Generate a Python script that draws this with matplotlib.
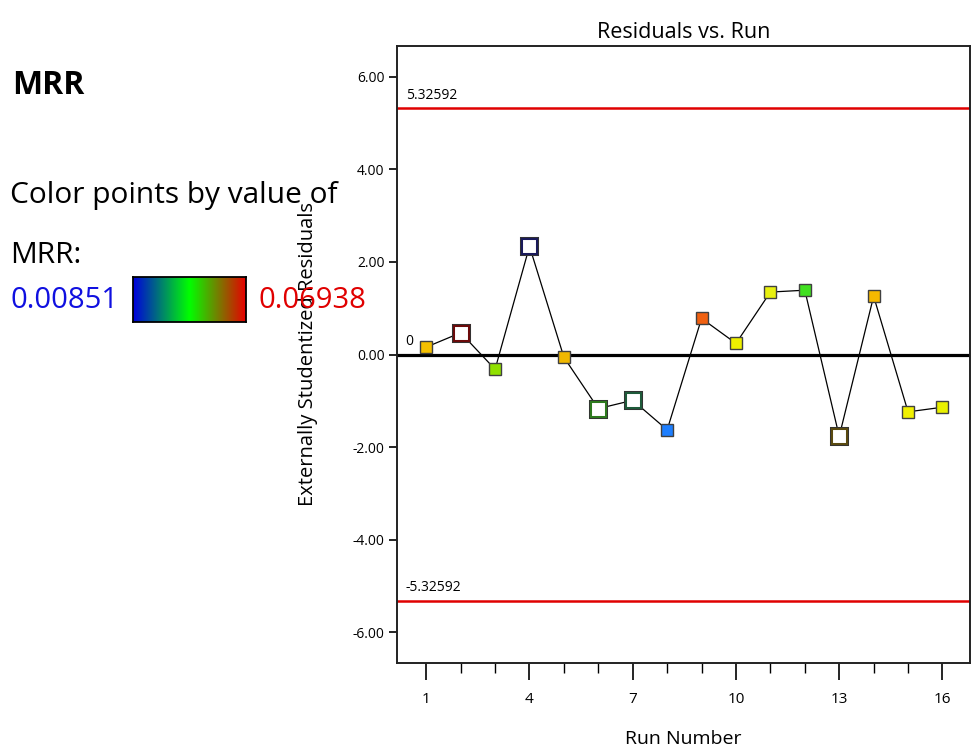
import numpy as np
import matplotlib
matplotlib.use("Agg")
import matplotlib.pyplot as plt
from matplotlib.colors import LinearSegmentedColormap

plt.rcParams['font.family'] = ['Open Sans', 'DejaVu Sans']

# Residuals for each run
runs = list(range(1, 17))
residuals = [0.16, 0.47, -0.32, 2.34, -0.06, -1.17, -0.99, -1.63,
             0.78, 0.24, 1.35, 1.39, -1.77, 1.26, -1.24, -1.14]
# marker colour per run (by MRR value); hollow markers are drawn as open squares
point_colors = ['#F5C000', '#6B0A0A', '#90E000', '#1A1A5A', '#F0B800', '#2E7A1E',
                '#1E5A3A', '#1E7FFF', '#F06010', '#EEF000', '#E8F010', '#40E020',
                '#5A4A10', '#F5B800', '#F0F000', '#E8F000']
hollow = [False, True, False, True, False, True, True, False,
          False, False, False, False, True, False, False, False]

limit = 5.32592
mrr_min, mrr_max = 0.00851, 0.06938
y_ticks = [-6, -4, -2, 0, 2, 4, 6]
x_major = [1, 4, 7, 10, 13, 16]

W, H = 973, 754
fig = plt.figure(figsize=(W / 100, H / 100), dpi=100)
ax = fig.add_axes([397 / W, 1 - 663 / H, (970 - 397) / W, (663 - 46) / H])

# connecting line
ax.plot(runs, residuals, color='black', lw=0.9, zorder=3)

for r, v, c, h in zip(runs, residuals, point_colors, hollow):
    if h:
        ax.plot(r, v, marker='s', ms=11.5, mfc='white', mec=c, mew=2.2, zorder=4)
        ax.plot(r, v, marker='s', ms=13.2, mfc='none', mec='#333333', mew=0.7, zorder=4)
    else:
        ax.plot(r, v, marker='s', ms=8.5, mfc=c, mec='#404040', mew=1.0, zorder=4)

# zero line and limits
ax.axhline(0, color='black', lw=2.3, zorder=2)
ax.axhline(limit, color='#E00000', lw=1.8, zorder=2)
ax.axhline(-limit, color='#E00000', lw=1.8, zorder=2)
ax.text(0.4, limit + 0.12, f'{limit:.5f}', fontsize=10, va='bottom', ha='left')
ax.text(0.4, -limit + 0.12, f'{-limit:.5f}', fontsize=10, va='bottom', ha='left')
ax.text(0.4, 0.12, '0', fontsize=10, va='bottom', ha='left')

ax.set_xlim(0.15, 16.8)
ax.set_ylim(-6.67, 6.67)
ax.set_yticks(y_ticks)
ax.set_yticklabels([f'{t:.2f}' for t in y_ticks], fontsize=10)
ax.set_xticks(x_major)
ax.set_xticklabels([str(t) for t in x_major], fontsize=11)
ax.set_xticks(runs, minor=True)
ax.tick_params(axis='y', direction='out', length=6, width=1.2, pad=3)
ax.tick_params(axis='x', which='major', direction='out', length=12, width=1.2, pad=9)
ax.tick_params(axis='x', which='minor', direction='out', length=7, width=1.0)
for s in ax.spines.values():
    s.set_linewidth(1.4)
    s.set_color('#222222')

ax.set_title('Residuals vs. Run', fontsize=15.5, pad=6)
ax.set_xlabel('Run Number', fontsize=14)
ax.set_ylabel('Externally Studentized Residuals', fontsize=14.5)
ax.xaxis.set_label_coords(0.5, -0.108)
ax.yaxis.set_label_coords(-0.138, 0.5)

# side panel
fig.text(12 / W, 1 - 85 / H, 'MRR', fontsize=23, fontweight='bold', va='center', ha='left')
fig.text(10 / W, 1 - 195 / H, 'Color points by value of', fontsize=21.5, va='center', ha='left')
fig.text(10 / W, 1 - 256 / H, 'MRR:', fontsize=21.5, va='center', ha='left')
fig.text(10 / W, 1 - 300 / H, f'{mrr_min:.5f}', fontsize=21, color='#1010E0', va='center', ha='left')
fig.text(258 / W, 1 - 300 / H, f'{mrr_max:.5f}', fontsize=21, color='#E00000', va='center', ha='left')

cmap = LinearSegmentedColormap.from_list('mrr', ['#0000DD', '#00FF00', '#E80000'])
cax = fig.add_axes([133 / W, 1 - 322 / H, (246 - 133) / W, (322 - 277) / H])
cax.imshow(np.linspace(0, 1, 256)[None, :], aspect='auto', cmap=cmap)
cax.set_xticks([])
cax.set_yticks([])
for s in cax.spines.values():
    s.set_linewidth(1.3)

fig.savefig('out.png', dpi=100)
